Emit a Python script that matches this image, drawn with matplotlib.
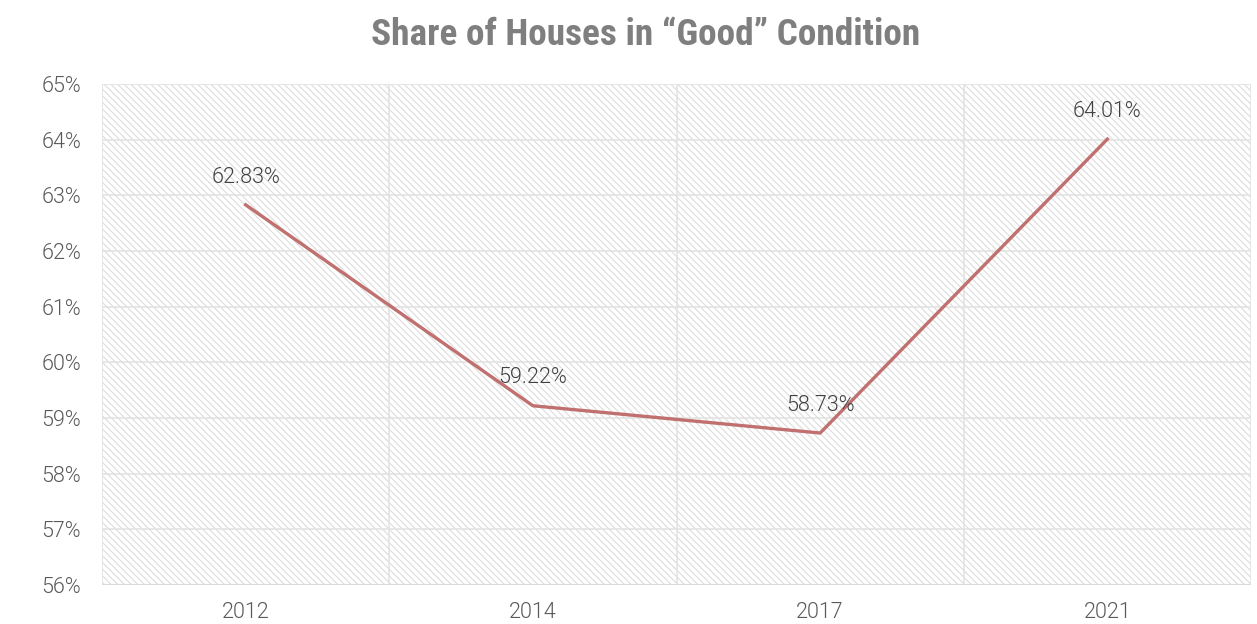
import numpy as np
import matplotlib.pyplot as plt
from matplotlib.patches import Rectangle

years = ['2012', '2014', '2017', '2021']
share = [62.83, 59.22, 58.73, 64.01]
yticks = list(range(56, 66))

plt.rcParams['font.family'] = ['Roboto', 'DejaVu Sans']
plt.rcParams['font.weight'] = 300
plt.rcParams['hatch.linewidth'] = 0.8
plt.rcParams['hatch.color'] = '#dcdcdc'


def showchart():
	fig = plt.figure(figsize=(12.57, 6.24), dpi=100)
	ax = fig.add_axes([102 / 1257, 1 - 585 / 624, (1251 - 102) / 1257, (585 - 84) / 624])

	x = np.arange(len(years))
	ax.set_xlim(-0.5, len(years) - 0.5)
	ax.set_ylim(56, 65)

	# hatched background
	ax.add_patch(Rectangle((0, 0), 1, 1, transform=ax.transAxes, facecolor='white',
		edgecolor='#dcdcdc', hatch='\\\\\\\\\\', linewidth=0, zorder=0))

	for v in yticks:
		ax.axhline(v, color='#e3e3e3', linewidth=1.2, zorder=1)
	for b in np.arange(-0.5, len(years), 1.0):
		ax.axvline(b, color='#e3e3e3', linewidth=1.2, zorder=1)
	ax.axhline(56, color='#d9d9d9', linewidth=1.5, zorder=1)

	ax.plot(x, share, color='#c0706f', linewidth=2.4, zorder=3)
	for xi, v in zip(x, share):
		ax.annotate('%.2f%%' % v, (xi, v), xytext=(0, 20), textcoords='offset points',
			ha='center', va='center', fontsize=15.5, color='#404040', zorder=4)

	ax.set_xticks(x)
	ax.set_xticklabels(years)
	ax.set_yticks(yticks)
	ax.set_yticklabels(['%d%%' % v for v in yticks])
	ax.tick_params(axis='both', length=0, labelsize=15.5, colors='#595959')
	ax.tick_params(axis='x', pad=12)
	ax.tick_params(axis='y', pad=15)
	for s in ax.spines.values():
		s.set_visible(False)

	fig.text(646 / 1257, 1 - 35 / 624, 'Share of Houses in \u201cGood\u201d Condition',
		ha='center', va='center', fontsize=26.8, fontweight='bold', color='#7f7f7f',
		family=['Roboto Condensed', 'Fira Sans Condensed', 'DejaVu Sans'])

	fig.savefig('out.png', dpi=100)


def main():
	showchart()


if __name__ == '__main__':
	main()
